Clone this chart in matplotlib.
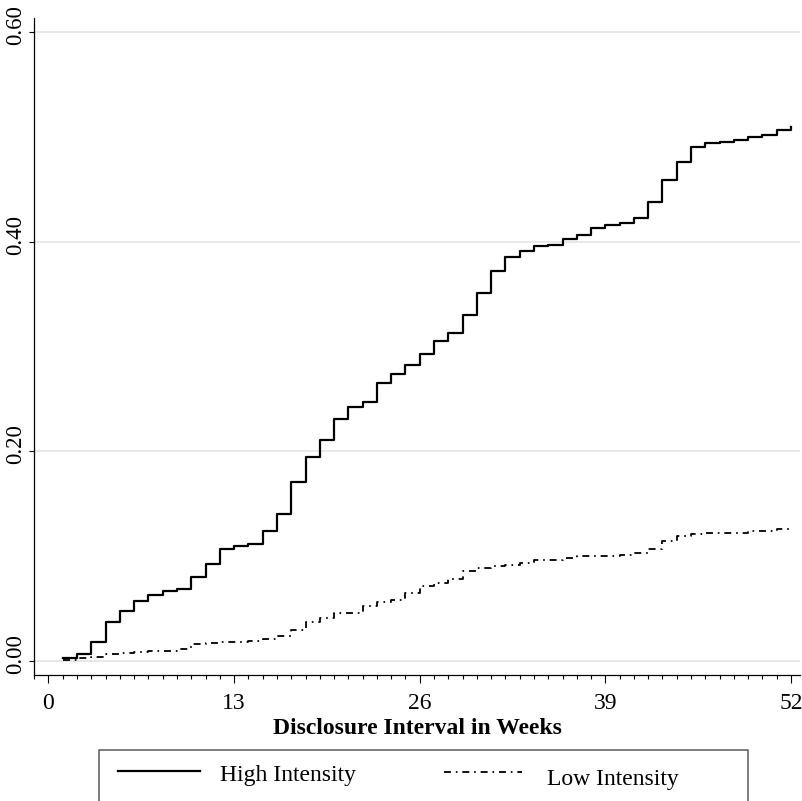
import numpy as np
import matplotlib.pyplot as plt
from matplotlib.lines import Line2D
from matplotlib.patches import Rectangle
from matplotlib.ticker import MultipleLocator, FixedLocator
from matplotlib.transforms import ScaledTranslation

plt.rcParams['font.family'] = ['Liberation Serif', 'DejaVu Serif']
plt.rcParams['lines.scale_dashes'] = False

# cumulative failure by week (1-52)
weeks = np.arange(1, 53)
high_intensity = [
    0.003, 0.0064, 0.018, 0.0375, 0.048, 0.057, 0.063, 0.0665, 0.069, 0.080,
    0.0925, 0.1066, 0.110, 0.1116, 0.1243, 0.140, 0.171, 0.195, 0.211, 0.231,
    0.242, 0.247, 0.265, 0.274, 0.282, 0.293, 0.305, 0.313, 0.330, 0.351,
    0.372, 0.3858, 0.3915, 0.396, 0.397, 0.403, 0.4064, 0.413, 0.4156, 0.4175,
    0.423, 0.438, 0.4585, 0.4757, 0.4906, 0.4945, 0.495, 0.497, 0.500, 0.502,
    0.5065, 0.509,
]
low_intensity = [
    0.001, 0.0025, 0.004, 0.0067, 0.008, 0.0086, 0.0092, 0.010, 0.0118, 0.016,
    0.017, 0.018, 0.0185, 0.0194, 0.021, 0.024, 0.030, 0.037, 0.0407, 0.0455,
    0.0455, 0.052, 0.056, 0.058, 0.065, 0.0716, 0.074, 0.078, 0.086, 0.089,
    0.091, 0.092, 0.0937, 0.0967, 0.0967, 0.0985, 0.1004, 0.1004, 0.1004, 0.1015,
    0.103, 0.1066, 0.114, 0.1188, 0.1214, 0.1225, 0.1225, 0.1225, 0.1244, 0.1244,
    0.126, 0.127,
]
x_ticks = [0, 13, 26, 39, 52]
y_ticks = [0.0, 0.2, 0.4, 0.6]
y_labels = ['0.00', '0.20', '0.40', '0.60']
series_names = ['High Intensity', 'Low Intensity']

W, H = 803, 801
dashdot = (0, (5, 3.5, 1.2, 3.5))

fig = plt.figure(figsize=(W / 100, H / 100), dpi=100)
ax = fig.add_axes([34 / W, (H - 675) / H, 766 / W, 657 / H])

ax.step(weeks, high_intensity, where='post', color='black', lw=1.6)
ax.step(weeks, low_intensity, where='post', color='black', lw=1.3, linestyle=dashdot)

ax.set_xlim(-1.015, 52.63)
ax.set_ylim(-0.01335, 0.61335)

for y in y_ticks:
    ax.axhline(y, color='#e6e6e6', lw=1.3, zorder=0)

for side in ['top', 'right']:
    ax.spines[side].set_visible(False)
for side in ['left', 'bottom']:
    ax.spines[side].set_linewidth(0.9)

ax.xaxis.set_major_locator(FixedLocator(x_ticks))
ax.xaxis.set_minor_locator(MultipleLocator(1))
ax.tick_params(axis='x', which='major', length=6, width=0.8, labelsize=17, pad=7)
ax.tick_params(axis='x', which='minor', length=3, width=0.8)
ax.set_yticks(y_ticks)
ax.set_yticklabels(y_labels, rotation=90, va='center')
ax.tick_params(axis='y', length=3.5, width=0.8, labelsize=16.5, pad=2)
# rotated labels sit a little above their ticks
shift = ScaledTranslation(0, 7 / 100, fig.dpi_scale_trans)
for lab in ax.get_yticklabels():
    lab.set_transform(lab.get_transform() + shift)

ax.set_xlabel('Disclosure Interval in Weeks', fontsize=17, fontweight='bold', labelpad=3)

# legend box along the bottom edge
fig.add_artist(Rectangle((99 / W, (H - 812) / H), 649 / W, 62 / H,
                         transform=fig.transFigure, fill=False,
                         edgecolor='#5a5a5a', lw=1.1, clip_on=False))
fig.add_artist(Line2D([118 / W, 200 / W], [(H - 771) / H] * 2,
                      transform=fig.transFigure, color='black', lw=1.6))
fig.add_artist(Line2D([444 / W, 522 / W], [(H - 772) / H] * 2,
                      transform=fig.transFigure, color='black', lw=1.3,
                      linestyle=dashdot))
fig.text(220 / W, (H - 775) / H, series_names[0], fontsize=17, va='center', ha='left')
fig.text(547 / W, (H - 779) / H, series_names[1], fontsize=17, va='center', ha='left')

plt.savefig('out.png', dpi=100)
